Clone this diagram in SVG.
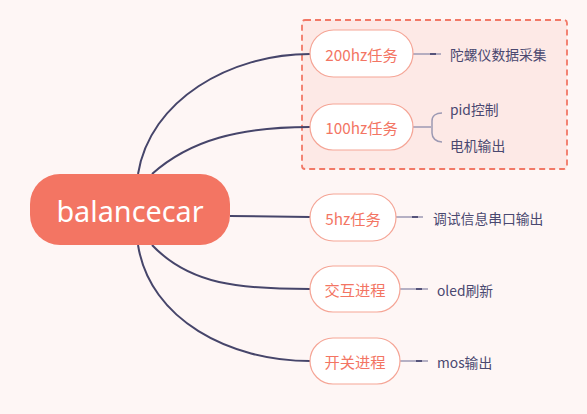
<svg xmlns="http://www.w3.org/2000/svg" width="587" height="414" viewBox="0 0 587 414">
<style>
.node{fill:#FFFFFF;stroke:#F5A596;stroke-width:1.2}
.nt{font-family:"Noto Sans CJK SC","Noto Sans",sans-serif;font-size:15.3px;fill:#F37563;text-anchor:middle;dominant-baseline:central}
.lt{font-family:"Noto Sans CJK SC","Noto Sans",sans-serif;font-size:13.8px;fill:#4A4870;dominant-baseline:central}
.main{fill:none;stroke:#46456A;stroke-width:2}
.leaf{fill:none;stroke:#9C99B3;stroke-width:1.5}
.tick{fill:none;stroke:#55537A;stroke-width:2}
</style>
<rect width="587" height="414" fill="#FEF6F5"/>
<rect x="302" y="20" width="265" height="149" rx="3" fill="#FDE9E6" stroke="#F27866" stroke-width="1.8" stroke-dasharray="6,4"/>
<g id="connectors">
<path class="main" d="M138,174 C150,100 230,54 310,54"/>
<path class="main" d="M152,174 C190,140 240,127 310,127"/>
<path class="main" d="M230,216 L310,217"/>
<path class="main" d="M152,245 C190,285 240,289 310,289"/>
<path class="main" d="M138,245 C150,320 230,361 310,361"/>
<path class="leaf" d="M413,54 H441"/><path class="tick" d="M430,54 H436"/>
<path class="leaf" d="M413,127 H431"/>
<path class="leaf" d="M442,113 C436,113 432,116 432,121 V133 C432,138 436,142 442,142"/>
<path class="leaf" d="M396,217 H423"/><path class="tick" d="M412,217 H418"/>
<path class="leaf" d="M400,289 H428"/><path class="tick" d="M416,289 H422"/>
<path class="leaf" d="M400,361 H428"/><path class="tick" d="M416,361 H422"/>
</g>
<g id="root">
<rect x="30" y="174" width="200" height="71" rx="30" fill="#F37563"/>
<text x="130" y="210" font-family="'Noto Sans','Open Sans',sans-serif" font-size="28.8" fill="#FFFFFF" text-anchor="middle" dominant-baseline="central">balancecar</text>
</g>
<g id="n200"><rect class="node" x="310" y="30" width="103" height="47" rx="23.5"/><text class="nt" x="361.5" y="53.5">200hz任务</text></g>
<g id="n100"><rect class="node" x="310" y="104" width="103" height="46" rx="23"/><text class="nt" x="361.5" y="127">100hz任务</text></g>
<g id="n5"><rect class="node" x="310" y="194" width="86" height="47" rx="23.5"/><text class="nt" x="353" y="217.5">5hz任务</text></g>
<g id="njh"><rect class="node" x="310" y="266" width="90" height="46" rx="23"/><text class="nt" x="355" y="289">交互进程</text></g>
<g id="nkg"><rect class="node" x="310" y="338" width="90" height="46" rx="23"/><text class="nt" x="355" y="361">开关进程</text></g>
<g id="l1"><text class="lt" x="450" y="54">陀螺仪数据采集</text></g>
<g id="l2"><text class="lt" x="450" y="109">pid控制</text></g>
<g id="l3"><text class="lt" x="450" y="145">电机输出</text></g>
<g id="l4"><text class="lt" x="433" y="218">调试信息串口输出</text></g>
<g id="l5"><text class="lt" x="437" y="290">oled刷新</text></g>
<g id="l6"><text class="lt" x="437" y="362">mos输出</text></g>
</svg>
